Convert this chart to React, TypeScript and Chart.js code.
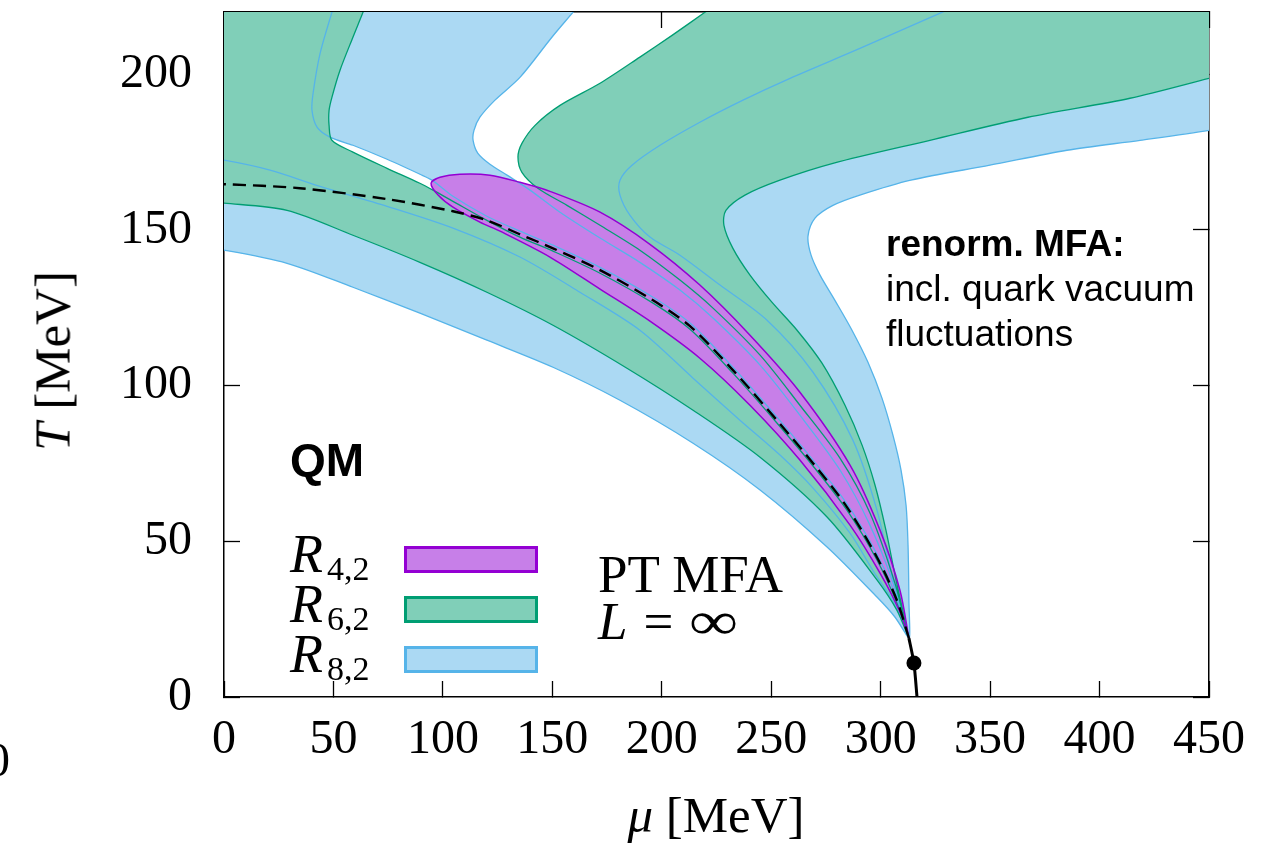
import React, { useEffect, useRef } from "react";
import { Chart, registerables } from "chart.js";

Chart.register(...registerables);

type Pt = [number, number]; // [mu (MeV), T (MeV)]

// Axis ranges and tick values
const MU_MIN = 0;
const MU_MAX = 450;
const T_MIN = 0;
const T_MAX = 220;
const MU_TICKS = [0, 50, 100, 150, 200, 250, 300, 350, 400, 450];
const T_TICKS = [0, 50, 100, 150, 200];

// Off-plot corners used to close regions that run out of the frame
const TOP_LEFT_OUT: Pt = [-5, 225];
const TOP_RIGHT_OUT: Pt = [460, 225];

// Critical end point and the first-order line below it
const CEP: Pt = [315.2, 10.9];
const FIRST_ORDER: Pt[] = [[312.9, 18.9], [315.2, 10.9], [316.6, 0]];

// Chiral crossover line (dashed)
const CROSSOVER: Pt[] = [
  [-5, 164.7], [0, 164.7], [34.7, 163.4], [74.5, 159.9], [104.6, 156.0], [120.1, 153.1],
  [135.2, 148.6], [150.3, 144.1], [171.8, 137.1], [196.0, 127.4], [212.9, 119.1],
  [232.5, 105.0], [252.6, 88.9], [269.1, 75.1], [284.6, 61.0], [298.3, 44.9],
  [307.4, 31.1], [312.9, 18.9],
];

// R_{8,2} contours
const R82_LOWER_OUTER: Pt[] = [
  [-5, 143.5], [0, 143.5], [28.8, 139.3], [58.9, 131.6], [89.5, 123.3], [120.1, 114.6],
  [150.3, 105.9], [180.9, 95.3], [214.3, 81.5], [244.9, 66.5], [275.5, 48.2],
  [298.3, 32.1], [306.5, 25.7], [312.9, 18.9],
];
const R82_LOWER_INNER: Pt[] = [
  [-5, 172.4], [0, 172.4], [21.0, 169.2], [43.9, 164.0], [74.5, 157.6], [104.6, 150.6],
  [135.2, 141.3], [162.6, 130.0], [190.0, 117.8], [214.3, 102.4], [235.7, 88.9],
  [254.0, 77.7], [269.1, 67.1], [286.0, 52.6], [296.9, 40.1], [306.1, 30.2], [312.9, 18.9],
];
const R82_LEFT_LOWER: Pt[] = [
  [51.6, 225.0], [49.3, 219.9], [43.9, 206.7], [40.7, 193.9], [40.2, 188.4], [42.5, 183.0],
  [48.4, 179.8], [58.9, 177.2], [74.5, 172.7], [89.5, 167.9], [95.0, 166.0], [104.6, 160.8],
  [120.1, 154.4], [135.2, 149.6], [150.3, 145.1], [171.8, 138.0], [196.0, 128.4],
  [212.9, 120.1], [232.5, 105.9], [252.6, 89.9], [269.1, 76.1], [284.6, 62.0],
  [298.3, 45.9], [307.4, 31.8], [312.9, 18.9],
];
const R82_LEFT_UPPER: Pt[] = [
  [165.4, 225.0], [159.4, 219.9], [149.8, 211.9], [135.2, 199.0], [123.8, 191.7],
  [116.9, 186.2], [114.2, 182.0], [113.8, 178.8], [116.0, 174.6], [121.5, 171.1],
  [129.3, 167.6], [139.8, 162.8], [153.5, 155.7], [171.8, 147.4], [190.0, 139.6],
  [208.3, 130.7], [223.4, 121.7], [244.9, 106.6], [263.1, 90.5], [281.4, 72.9],
  [295.1, 55.2], [306.5, 35.0], [312.9, 18.9],
];
const R82_UPPER_INNER: Pt[] = [
  [344.4, 225.0], [328.0, 219.9], [290.5, 208.3], [258.6, 198.7], [237.1, 191.7],
  [217.4, 184.6], [199.2, 177.2], [186.4, 170.8], [180.9, 166.0], [180.9, 161.2],
  [185.5, 154.7], [194.6, 147.7], [208.3, 141.9], [226.6, 132.3], [248.1, 121.0],
  [269.1, 104.3], [287.3, 82.5], [298.3, 60.0], [305.6, 37.6], [312.9, 18.9],
];
const R82_UPPER_OUTER: Pt[] = [
  [460, 183.5], [450, 182.0], [418.5, 178.8], [385.1, 175.6], [349.9, 170.8], [313.8, 166.0],
  [290.5, 161.2], [278.2, 157.9], [270.0, 153.8], [266.8, 148.0], [268.2, 141.9],
  [272.3, 135.5], [279.1, 127.4], [286.9, 117.8], [294.2, 107.5], [300.6, 96.0],
  [305.6, 84.1], [309.3, 72.9], [311.6, 61.6], [312.5, 48.8], [312.9, 31.1], [312.9, 18.9],
];

// R_{6,2} contours
const R62_LOWER_EDGE: Pt[] = [
  [-5, 158.6], [0, 158.6], [28.8, 156.3], [58.9, 148.3], [89.5, 139.6], [120.1, 130.0],
  [150.3, 119.4], [184.1, 105.6], [214.3, 92.1], [244.9, 77.0], [275.5, 57.8],
  [298.3, 37.6], [307.4, 27.9], [312.9, 18.9],
];
const R62_LOWER_TOP: Pt[] = [
  [66.2, 225.0], [63.5, 219.9], [58.9, 211.9], [53.0, 201.3], [49.3, 192.6], [48.0, 188.4],
  [48.0, 183.6], [49.3, 178.8], [58.9, 175.0], [74.5, 169.8], [89.5, 165.0], [95.5, 162.8],
  [104.6, 159.2], [120.1, 153.1], [135.2, 147.7], [150.3, 143.2], [171.8, 136.1],
  [196.0, 126.5], [212.9, 118.1], [232.5, 104.0], [252.6, 88.0], [269.1, 74.2],
  [284.6, 60.0], [298.3, 44.0], [307.4, 30.2], [312.9, 18.9],
];
const R62_UPPER_LEFT: Pt[] = [
  [230.2, 225.0], [219.7, 219.9], [204.7, 212.5], [190.0, 205.5], [171.8, 197.1],
  [153.5, 190.0], [142.1, 183.6], [136.1, 177.8], [134.3, 173.4], [136.1, 168.5],
  [143.4, 163.4], [156.7, 157.9], [171.8, 151.5], [190.0, 143.5], [208.3, 133.9],
  [223.4, 124.9], [244.9, 109.8], [263.1, 93.7], [281.4, 76.7], [295.1, 59.1],
  [306.5, 36.6], [312.9, 18.9],
];
const R62_UPPER_RIGHT: Pt[] = [
  [460, 200.5], [450, 198.7], [413.9, 192.3], [367.3, 186.2], [322.5, 178.8], [278.2, 171.4],
  [254.0, 166.0], [238.0, 161.2], [229.3, 156.3], [228.4, 151.5], [232.5, 144.1],
  [240.3, 135.5], [250.3, 126.8], [261.8, 117.8], [273.2, 107.2], [283.7, 93.7],
  [291.5, 80.9], [297.4, 68.1], [302.4, 53.6], [307.0, 37.6], [310.6, 26.3], [312.9, 18.9],
];

// R_{4,2} contour (upper and lower edge, both from the tip to the CEP)
const R42_UPPER: Pt[] = [
  [94.6, 165.0], [98.7, 166.9], [107.8, 167.9], [121.5, 167.6], [135.2, 165.3],
  [148.9, 162.4], [171.8, 155.7], [194.6, 145.4], [217.4, 132.3], [240.3, 116.2],
  [263.1, 97.9], [286.0, 74.5], [299.7, 53.6], [308.8, 34.3], [312.9, 18.9],
];
const R42_LOWER: Pt[] = [
  [94.6, 165.0], [97.8, 161.2], [104.6, 157.3], [116.9, 152.5], [126.1, 149.6],
  [148.9, 141.3], [171.8, 131.0], [194.6, 120.7], [217.4, 108.8], [240.3, 93.7],
  [263.1, 76.1], [286.0, 55.2], [299.7, 39.8], [308.8, 27.3], [312.9, 18.9],
];

// Colours
const R42_FILL = "#c77fe8";
const R42_EDGE = "#9400d3";
const R62_FILL = "#80cfb8";
const R62_EDGE = "#009e73";
const R82_FILL = "#abd9f3";
const R82_EDGE = "#56b4e9";

const SERIF = "'Liberation Serif', 'Times New Roman', serif";
const SANS = "'Liberation Sans', Arial, sans-serif";

// Reverse a contour and drop its shared end point
const back = (c: Pt[]) => c.slice(0, -1).reverse();

// Closed regions assembled from the contours
const R82_LOWER_BAND: Pt[] = [...R82_LOWER_OUTER, ...back(R82_LOWER_INNER)];
const R82_UPPER_BAND: Pt[] = [...R82_UPPER_INNER, ...back(R82_UPPER_OUTER), TOP_RIGHT_OUT];
const R82_LEFT_BAND: Pt[] = [...R82_LEFT_LOWER, ...back(R82_LEFT_UPPER)];
const R62_LOWER_BAND: Pt[] = [...R62_LOWER_TOP, ...back(R62_LOWER_EDGE), TOP_LEFT_OUT];
const R62_UPPER_BAND: Pt[] = [...R62_UPPER_LEFT, ...back(R62_UPPER_RIGHT), TOP_RIGHT_OUT];
const R42_BAND: Pt[] = [...R42_LOWER.slice().reverse(), ...R42_UPPER.slice(1)];

const toXY = (pts: Pt[]) => pts.map(([x, y]) => ({ x, y }));

const region = (label: string, pts: Pt[], fill: string, edge: string, width = 1.3) => ({
  label,
  data: toXY(pts),
  showLine: true,
  fill: "shape",
  backgroundColor: fill,
  borderColor: edge,
  borderWidth: width,
  borderJoinStyle: "round",
  pointRadius: 0,
  tension: 0.3,
});

const setTicks = (vals: number[]) => (scale: any) => {
  scale.ticks = vals.map((v) => ({ value: v }));
};

// Fix the axis box sizes so the plot frame sits where intended
const fixBox = (size: { width?: number; height?: number }) => (s: any) => {
  if (size.width !== undefined) s.width = size.width;
  if (size.height !== undefined) s.height = size.height;
  s.paddingTop = 0;
  s.paddingBottom = 0;
  s.paddingLeft = 0;
  s.paddingRight = 0;
};

const tickFont = { family: SERIF, size: 48 };
const gridOpts = {
  drawOnChartArea: false,
  drawTicks: true,
  tickLength: -16,
  tickColor: "#000",
  tickWidth: 1.3,
};
const borderOpts = { display: true, color: "#000", width: 1.5 };

export default function App() {
  const canvasRef = useRef<HTMLCanvasElement>(null);

  useEffect(() => {
    document.body.style.margin = "0";
    const canvas = canvasRef.current;
    if (!canvas) return;

    const datasets: any[] = [
      {
        label: "crossover",
        data: toXY(CROSSOVER),
        showLine: true,
        fill: false,
        borderColor: "#000",
        borderWidth: 2.4,
        borderDash: [13, 7],
        pointRadius: 0,
        tension: 0.3,
      },
      {
        label: "first order",
        data: toXY(FIRST_ORDER),
        showLine: true,
        fill: false,
        borderColor: "#000",
        borderWidth: 3,
        pointRadius: 0,
        tension: 0.2,
      },
      {
        label: "CEP",
        data: toXY([CEP]),
        showLine: false,
        pointRadius: 7.5,
        pointBackgroundColor: "#000",
        pointBorderWidth: 0,
      },
      region("R42", R42_BAND, R42_FILL, R42_EDGE, 1.5),
      region("R62 upper", R62_UPPER_BAND, R62_FILL, R62_EDGE),
      region("R62 lower", R62_LOWER_BAND, R62_FILL, R62_EDGE),
      region("R82 left", R82_LEFT_BAND, R82_FILL, R82_EDGE),
      region("R82 upper", R82_UPPER_BAND, R82_FILL, R82_EDGE),
      region("R82 lower", R82_LOWER_BAND, R82_FILL, R82_EDGE),
    ];

    const chart = new Chart(canvas, {
      type: "scatter",
      data: { datasets },
      options: {
        responsive: false,
        maintainAspectRatio: false,
        animation: false,
        devicePixelRatio: 1,
        events: [],
        layout: { padding: 0, autoPadding: false },
        plugins: {
          legend: { display: false },
          tooltip: { enabled: false },
          filler: { drawTime: "beforeDatasetsDraw", propagate: false },
        },
        scales: {
          x: {
            type: "linear",
            position: "bottom",
            min: MU_MIN,
            max: MU_MAX,
            afterBuildTicks: setTicks(MU_TICKS),
            afterFit: fixBox({ height: 151 }),
            ticks: { font: tickFont, color: "#000", padding: 31, maxRotation: 0, autoSkip: false },
            grid: gridOpts,
            border: borderOpts,
          },
          y: {
            type: "linear",
            position: "left",
            min: T_MIN,
            max: T_MAX,
            afterBuildTicks: setTicks(T_TICKS),
            afterFit: fixBox({ width: 224 }),
            ticks: { font: tickFont, color: "#000", padding: 48, autoSkip: false },
            grid: gridOpts,
            border: borderOpts,
          },
          x2: {
            type: "linear",
            axis: "x",
            position: "top",
            min: MU_MIN,
            max: MU_MAX,
            afterBuildTicks: setTicks(MU_TICKS),
            afterFit: fixBox({ height: 12 }),
            ticks: { display: false },
            grid: gridOpts,
            border: borderOpts,
          },
          y2: {
            type: "linear",
            axis: "y",
            position: "right",
            min: T_MIN,
            max: T_MAX,
            afterBuildTicks: setTicks(T_TICKS),
            afterFit: fixBox({ width: 70 }),
            ticks: { display: false },
            grid: gridOpts,
            border: borderOpts,
          },
        },
      } as any,
    });

    return () => chart.destroy();
  }, []);

  const abs = (style: React.CSSProperties): React.CSSProperties => ({
    position: "absolute",
    whiteSpace: "nowrap",
    color: "#000",
    ...style,
  });

  const legendRows = [
    { sub: "4,2", fill: R42_FILL, edge: R42_EDGE, base: 572 },
    { sub: "6,2", fill: R62_FILL, edge: R62_EDGE, base: 622 },
    { sub: "8,2", fill: R82_FILL, edge: R82_EDGE, base: 672 },
  ];

  return (
    <div
      style={{
        position: "fixed",
        left: 0,
        top: 0,
        width: 1279,
        height: 848,
        overflow: "hidden",
        background: "#fff",
      }}
    >
      <canvas ref={canvasRef} width={1279} height={848} style={{ position: "absolute", left: 0, top: 0 }} />

      {/* axis titles */}
      <div
        style={abs({
          left: 53,
          top: 361,
          transform: "translate(-50%, -50%) rotate(-90deg)",
          font: `51px ${SERIF}`,
          lineHeight: 1,
        })}
      >
        <i>T</i> [MeV]
      </div>
      <div
        style={abs({
          left: 716,
          top: 815,
          transform: "translate(-50%, -50%)",
          font: `51px ${SERIF}`,
          lineHeight: 1,
        })}
      >
        <i>μ</i> [MeV]
      </div>

      {/* edge of a neighbouring panel's tick label */}
      <div style={abs({ left: -14, top: 736, font: `48px ${SERIF}`, lineHeight: 1 })}>0</div>

      {/* model label */}
      <div style={abs({ left: 290, top: 437, font: `bold 46px ${SANS}`, lineHeight: 1 })}>QM</div>

      {/* annotation */}
      <div style={abs({ left: 886, top: 221, font: `37px ${SANS}`, lineHeight: "45px" })}>
        <div style={{ fontWeight: "bold" }}>renorm. MFA:</div>
        <div>incl. quark vacuum</div>
        <div>fluctuations</div>
      </div>

      {/* legend */}
      {legendRows.map((r) => (
        <React.Fragment key={r.sub}>
          <div
            style={abs({
              left: 290,
              top: r.base - 45.2,
              font: `italic 54px ${SERIF}`,
              lineHeight: 1,
            })}
          >
            R
          </div>
          <div
            style={abs({
              left: 327,
              top: r.base + 8 - 28.5,
              font: `34px ${SERIF}`,
              lineHeight: 1,
            })}
          >
            {r.sub}
          </div>
          <div
            style={{
              position: "absolute",
              left: 404,
              top: r.base - 26,
              width: 134,
              height: 27,
              boxSizing: "border-box",
              background: r.fill,
              border: `3px solid ${r.edge}`,
            }}
          />
        </React.Fragment>
      ))}

      {/* method label */}
      <div style={abs({ left: 598, top: 551, font: `53px ${SERIF}`, lineHeight: "47px" })}>
        <div>PT MFA</div>
        <div>
          <i>L</i>
          <span style={{ display: "inline-block", marginLeft: 16, marginRight: 16 }}>=</span>
          <span style={{ display: "inline-block", transform: "scaleX(1.3)", transformOrigin: "left center" }}>
            ∞
          </span>
        </div>
      </div>
    </div>
  );
}
